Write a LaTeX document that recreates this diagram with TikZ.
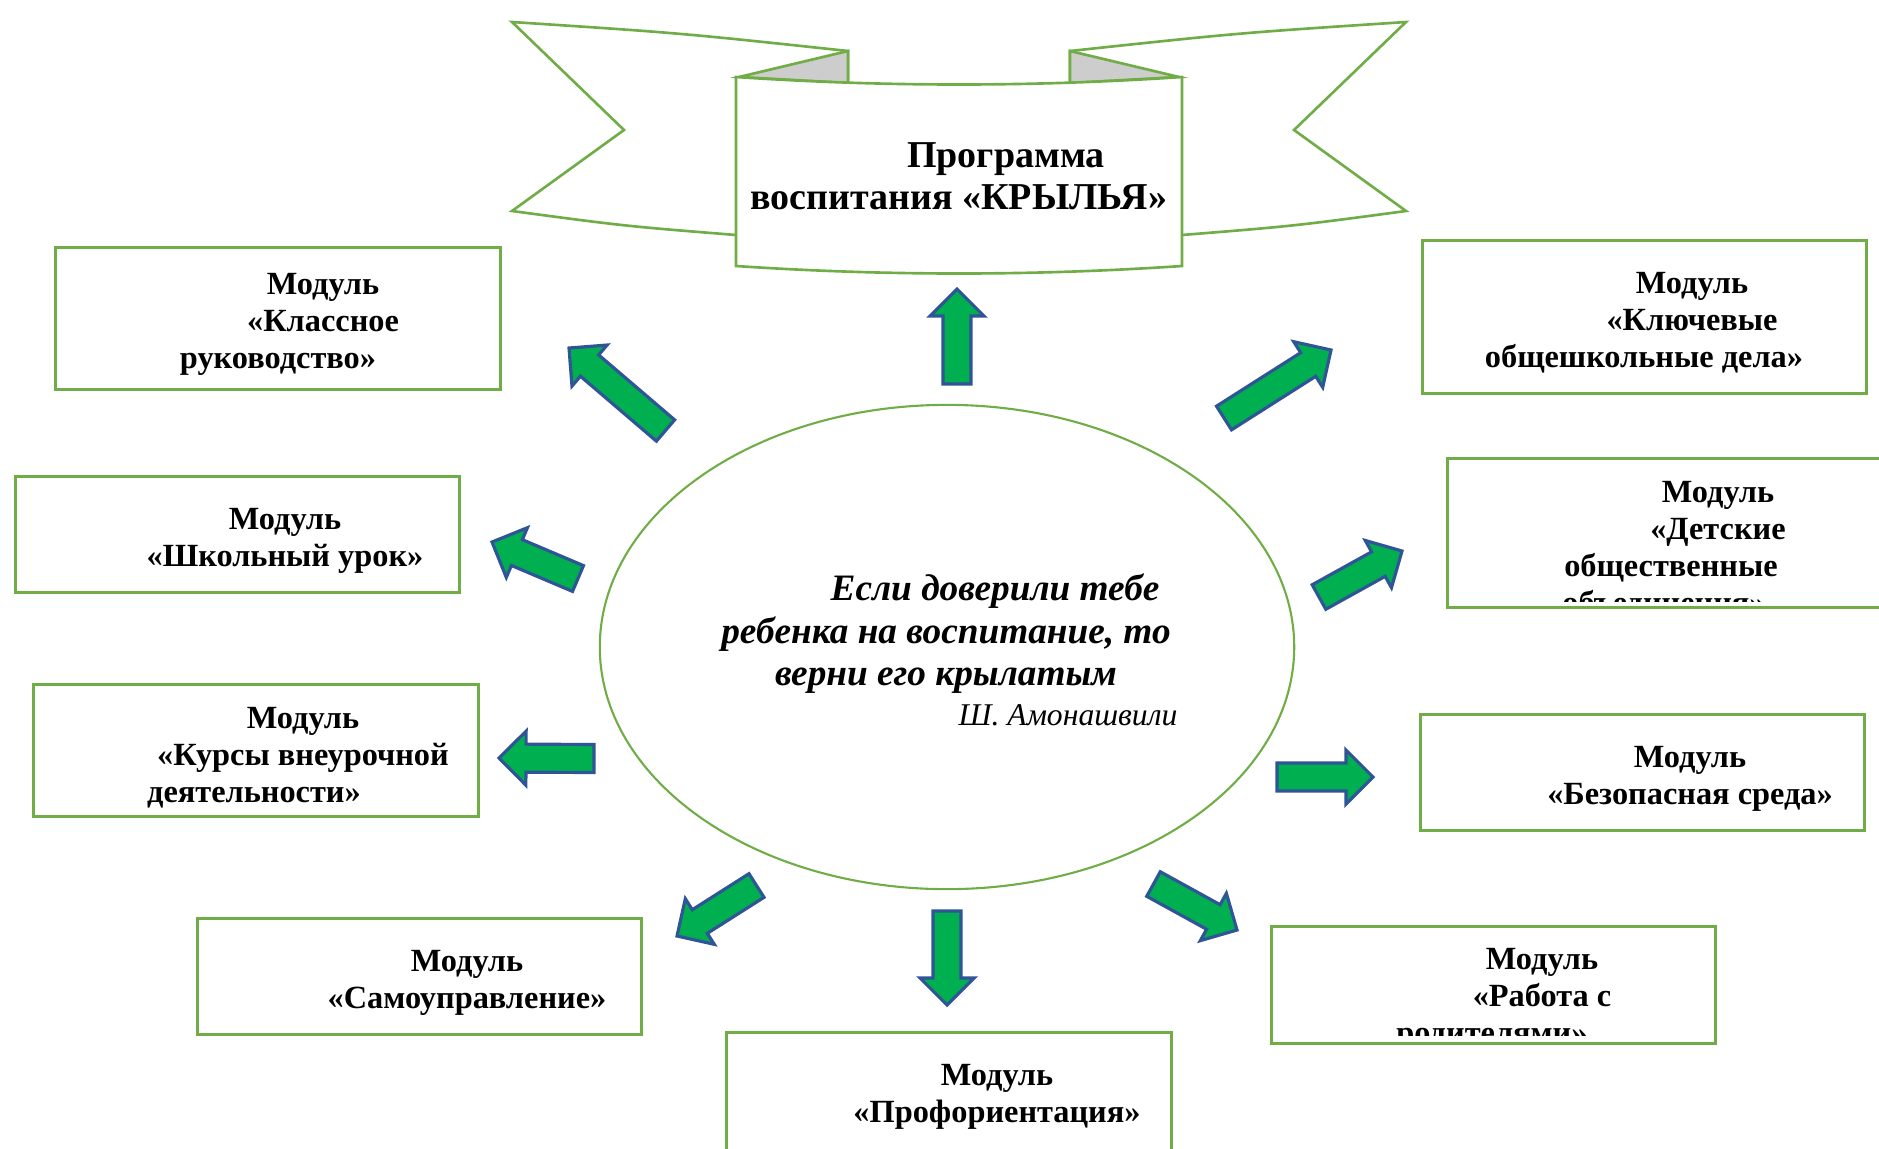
\documentclass[tikz,border=0pt]{standalone}
\usepackage{fontspec}
\setmainfont{Liberation Serif}
\usetikzlibrary{positioning,calc,shapes.geometric}

\definecolor{framegreen}{HTML}{70AD47}
\definecolor{arrowgreen}{HTML}{00B050}
\definecolor{arrowblue}{HTML}{2F5597}
\definecolor{foldgray}{HTML}{CDCDCD}

\tikzset{
  modbox/.style={draw=framegreen, line width=0.85pt, inner sep=0pt, minimum width=4.44cm},
  modtext/.style={font=\fontsize{9.2}{10.5}\selectfont\bfseries, align=center, inner sep=0pt},
  ribbon/.style={draw=framegreen, line width=0.75pt},
  arrowshape/.style={fill=arrowgreen, draw=arrowblue, line width=0.9pt, line join=miter}
}

% block arrow from tail to tip
\newcommand{\blockarrow}[2]{%
  \coordinate (hb) at ($(#2)!0.27cm!(#1)$);
  \filldraw[arrowshape] ($(#1)!0.14cm!90:(#2)$) -- ($(hb)!0.14cm!90:(#2)$) -- ($(hb)!0.27cm!90:(#2)$)
    -- (#2) -- ($(hb)!0.27cm!-90:(#2)$) -- ($(hb)!0.14cm!-90:(#2)$) -- ($(#1)!0.14cm!-90:(#2)$) -- cycle;
}
% blank space that keeps a line off centre
\newcommand{\gap}[1]{\rule{#1}{0pt}}

\begin{document}
\begin{tikzpicture}[x=0.01cm, y=-0.01cm]
    \useasboundingbox (0,0) rectangle (1879,1148);

    % Draw ribbon wings
    \draw[ribbon] (848,83) -- (848,51) .. controls (680,33) .. (512,22) -- (624,130) -- (512,211) .. controls (624,226) .. (736,235);
    \draw[ribbon] (1070,83) -- (1070,51) .. controls (1238,33) .. (1406,22) -- (1294,130) -- (1406,211) .. controls (1294,226) .. (1182,235);
    \filldraw[ribbon, fill=foldgray] (848,51) -- (848,83) -- (739,77) -- cycle;
    \filldraw[ribbon, fill=foldgray] (1070,51) -- (1070,83) -- (1179,77) -- cycle;

    % Front of the ribbon
    \filldraw[ribbon, fill=white] (736,77) .. controls (885,87) and (1033,87) .. (1182,77) -- (1182,266)
      .. controls (1033,276) and (885,276) .. (736,266) -- cycle;
    \node[font=\fontsize{10.8}{11.9}\selectfont\bfseries, align=center, inner sep=0pt] (title) at (959,176)
      {\gap{0.94cm}Программа\\воспитания «КРЫЛЬЯ»};

    % Central quote
    \node[draw=framegreen, line width=0.6pt, ellipse, minimum width=6.94cm, minimum height=4.84cm] (quote) at (947,647) {};
    \node[font=\fontsize{10.6}{12.1}\selectfont\bfseries\itshape, align=center, inner sep=0pt] (quotetxt) at (946,634)
      {\gap{0.98cm}Если доверили тебе\\ребенка на воспитание, то\\верни его крылатым};
    \node[font=\fontsize{9}{10}\selectfont\itshape, inner sep=0pt] (amon) at (1068,715) {Ш. Амонашвили};

    % Module boxes
    \node[modbox, minimum height=1.41cm] (klass) at (278,318.5) {};
    \node[modbox, minimum height=1.15cm] (urok) at (237.5,534.5) {};
    \node[modbox, minimum height=1.31cm] (kursy) at (256,750.5) {};
    \node[modbox, minimum height=1.15cm] (samoupr) at (419.5,976.5) {};
    \node[modbox, minimum height=1.25cm] (proforient) at (949,1095.5) {};
    \node[modbox, minimum height=1.17cm] (roditeli) at (1493.5,985) {};
    \node[modbox, minimum height=1.15cm] (bezopas) at (1642.5,772.5) {};
    \node[modbox, minimum height=1.48cm] (detskie) at (1670,533) {};
    \node[modbox, minimum height=1.52cm] (klyuch) at (1644.5,317) {};

    % Module texts
    \node[modtext] (klasstxt) at (323,324) {Модуль\\«Классное\\руководство»\gap{0.9cm}};
    \node[modtext] (uroktxt) at (285,540.5) {Модуль\\«Школьный урок»};
    \node[modtext] (kursytxt) at (303,758) {Модуль\\«Курсы внеурочной\\деятельности»\gap{0.98cm}};
    \node[modtext] (samouprtxt) at (467,982.5) {Модуль\\«Самоуправление»};
    \node[modtext] (proforienttxt) at (997,1096.5) {Модуль\\«Профориентация»};
    \node[modtext] (bezopastxt) at (1690,778.5) {Модуль\\«Безопасная среда»};
    \node[modtext] (klyuchtxt) at (1692,323) {Модуль\\«Ключевые\\общешкольные дела»\gap{0.96cm}};
    \begin{scope}
      \clip (1273,928) rectangle (1714,1035);
      \node[modtext] (roditelitxt) at (1542,999) {Модуль\\«Работа с\\родителями»\gap{1.0cm}};
    \end{scope}
    \begin{scope}
      \clip (1450,461) rectangle (1890,601);
      \node[modtext] (detskietxt) at (1718,550.5) {Модуль\\«Детские\\общественные\gap{0.94cm}\\объединения»\gap{1.08cm}};
    \end{scope}

    % Arrows from the quote to the boxes
    \foreach \n/\sx/\sy/\ex/\ey in {up/957/384/957/289, ur/1224/418/1331/350, ul/665.5/430.5/569/348,
        lu/578/578.5/492/542, lf/594/758.5/499/758, dl/756.5/885.5/677/936, dn/947/911/947/1005,
        dr/1153.5/884/1237/930, rt/1277/777/1373/777, ru/1319/597/1402/551} {
      \coordinate (tail-\n) at (\sx,\sy);
      \coordinate (tip-\n) at (\ex,\ey);
      \blockarrow{tail-\n}{tip-\n}
    }
\end{tikzpicture}
\end{document}
